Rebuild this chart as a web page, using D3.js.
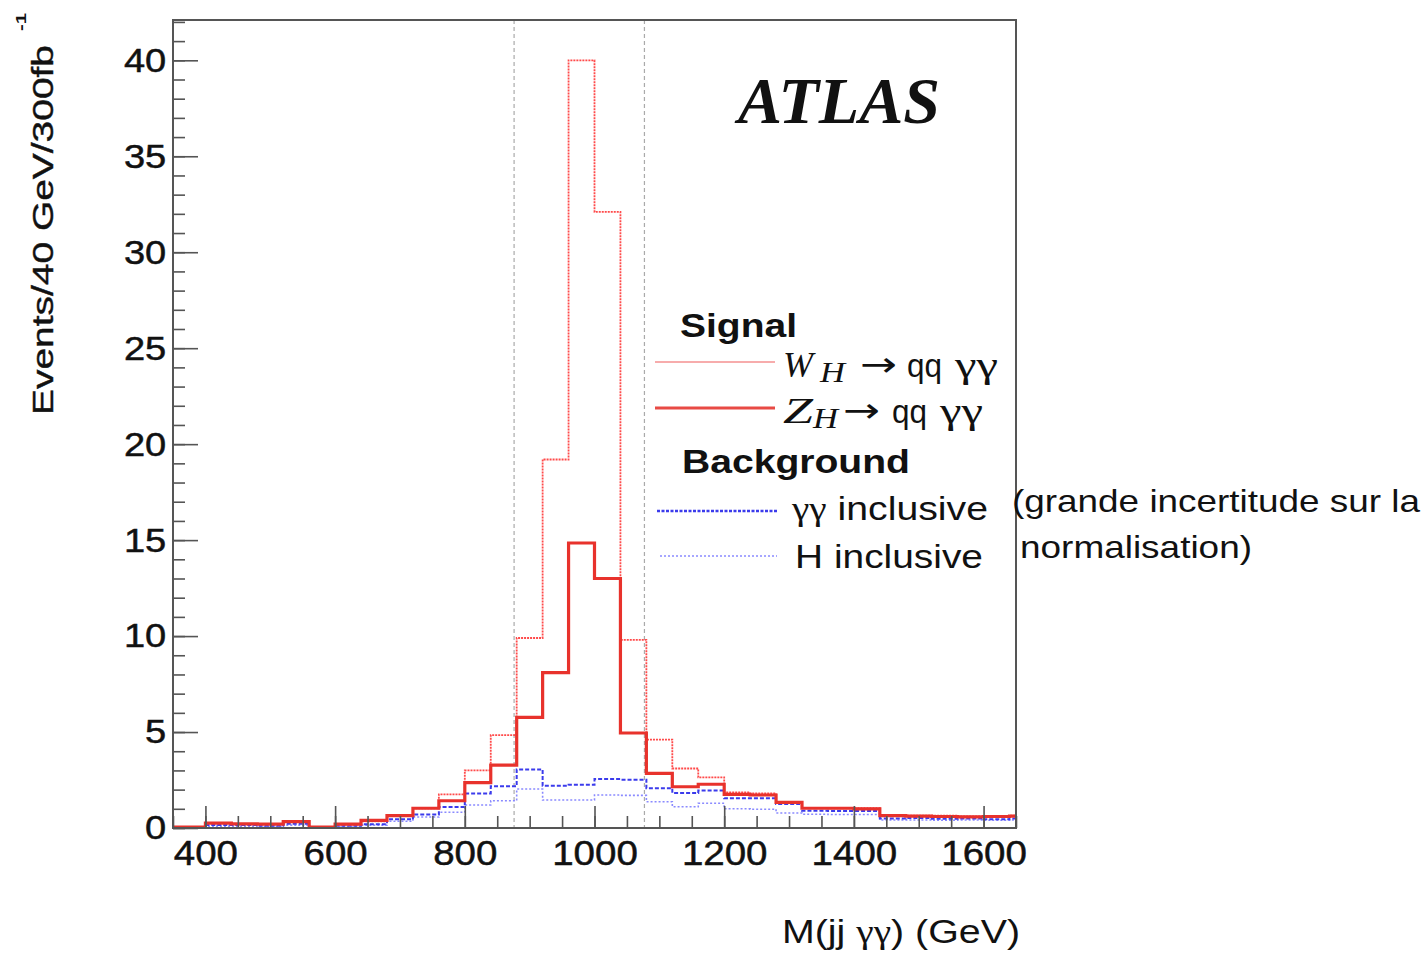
<!DOCTYPE html>
<html>
<head>
<meta charset="utf-8">
<style>
body{margin:0;background:#fff;}
text{font-family:"Liberation Sans",Arial,sans-serif;fill:#111;}
.frame{fill:none;stroke:#555;stroke-width:2;}
.axis line{stroke:#555;stroke-width:1.6;}
.axis path{display:none;}
.gam{font-family:"Liberation Serif","Times New Roman",serif;}
</style>
<title>ATLAS M(jj yy)</title>
</head>
<body>
<svg width="1427" height="958"></svg>
<script src="https://d3js.org/d3.v7.min.js"></script>
<script>
// lower edge of each 40 GeV bin
var binLow = [320, 360, 400, 440, 480, 520, 560, 600, 640, 680, 720, 760, 800, 840, 880, 920, 960,
              1000, 1040, 1080, 1120, 1160, 1200, 1240, 1280, 1320, 1360, 1400, 1440, 1480, 1520, 1560, 1600, 1640];

var wSignal = [0.05, 0.05, 0.25, 0.22, 0.2, 0.35, 0.05, 0.18, 0.35, 0.68, 1.03, 1.75, 3.0, 4.84, 9.9, 19.2, 40.0,
               32.1, 9.8, 4.6, 3.1, 2.64, 1.85, 1.8, 1.35, 1.05, 1.03, 1.03, 0.68, 0.65, 0.65, 0.6, 0.62, 0.65];

var zSignal = [0.05, 0.05, 0.25, 0.22, 0.2, 0.33, 0.05, 0.2, 0.4, 0.65, 1.03, 1.42, 2.36, 3.28, 5.76, 8.1, 14.85,
               13.0, 4.95, 2.85, 2.15, 2.28, 1.75, 1.72, 1.33, 1.03, 1.03, 1.0, 0.65, 0.62, 0.6, 0.58, 0.6, 0.62];

var ggIncl = [0.03, 0.03, 0.15, 0.15, 0.12, 0.22, 0.03, 0.12, 0.2, 0.45, 0.7, 1.1, 1.8, 2.17, 3.05, 2.2, 2.25,
              2.55, 2.52, 2.07, 1.82, 1.95, 1.55, 1.55, 1.25, 0.9, 0.88, 0.88, 0.5, 0.52, 0.48, 0.5, 0.45, 0.5];

var hIncl = [0.02, 0.02, 0.1, 0.1, 0.08, 0.15, 0.02, 0.08, 0.15, 0.35, 0.57, 0.82, 1.2, 1.42, 2.03, 1.46, 1.46,
             1.72, 1.7, 1.37, 1.11, 1.29, 1.0, 0.98, 0.78, 0.72, 0.7, 0.7, 0.42, 0.42, 0.4, 0.42, 0.4, 0.42];

var binWidth = 40;
var windowCuts = [876, 1077];
var xTicks = [400, 600, 800, 1000, 1200, 1400, 1600];
var yTicks = [0, 5, 10, 15, 20, 25, 30, 35, 40];

var svg = d3.select("svg");

var x = d3.scaleLinear().domain([350, 1650]).range([173, 1016]);
var y = d3.scaleLinear().domain([0, 42.1]).range([828, 20]);

svg.append("clipPath").attr("id", "plotclip")
  .append("rect")
    .attr("x", x.range()[0]).attr("y", y.range()[1])
    .attr("width", x.range()[1] - x.range()[0])
    .attr("height", y.range()[0] - y.range()[1]);

// mass window
svg.append("g").selectAll("line")
  .data(windowCuts)
  .enter().append("line")
    .attr("x1", function(d) { return x(d); })
    .attr("x2", function(d) { return x(d); })
    .attr("y1", y.range()[1]).attr("y2", y.range()[0])
    .attr("stroke", "#aaa").attr("stroke-width", 1.2)
    .attr("stroke-dasharray", "4,3");

// histograms
var step = d3.line()
    .x(function(d) { return x(d[0]); })
    .y(function(d) { return y(d[1]); })
    .curve(d3.curveStepAfter);

function histPoints(vals) {
  var pts = binLow.map(function(lo, i) { return [lo, vals[i]]; });
  pts.push([binLow[binLow.length - 1] + binWidth, vals[vals.length - 1]]);
  return pts;
}

var series = [
  {vals: hIncl,   color: "#8a8aff", width: 1.6, dash: "2,2"},
  {vals: ggIncl,  color: "#3b3bec", width: 2,   dash: "4,2"},
  {vals: wSignal, color: "#ff4a4a", width: 1.8, dash: "2,1"},
  {vals: zSignal, color: "#e8322c", width: 3.2, dash: null}
];

svg.append("g").attr("clip-path", "url(#plotclip)")
  .selectAll("path")
  .data(series)
  .enter().append("path")
    .attr("d", function(d) { return step(histPoints(d.vals)); })
    .attr("fill", "none")
    .attr("stroke", function(d) { return d.color; })
    .attr("stroke-width", function(d) { return d.width; })
    .attr("stroke-dasharray", function(d) { return d.dash; });

// frame
svg.append("rect").attr("class", "frame")
  .attr("x", x.range()[0]).attr("y", y.range()[1])
  .attr("width", x.range()[1] - x.range()[0])
  .attr("height", y.range()[0] - y.range()[1]);

// axes, ticks pointing inwards
svg.append("g").attr("class", "axis")
  .attr("transform", "translate(" + x.range()[0] + ",0)")
  .call(d3.axisLeft(y).tickValues(d3.range(0, 43, 1)).tickSize(-12).tickFormat(""));

var yAxis = svg.append("g").attr("class", "axis")
  .attr("transform", "translate(" + x.range()[0] + ",0)")
  .call(d3.axisLeft(y).tickValues(yTicks).tickSize(-25).tickPadding(6).tickFormat(d3.format("d")));
yAxis.selectAll("text")
  .style("font-size", "34px").attr("fill", "#111")
  .attr("stroke", "#111").attr("stroke-width", 0.5)
  .attr("transform", "scale(1.12,1)");

svg.append("g").attr("class", "axis")
  .attr("transform", "translate(0," + y.range()[0] + ")")
  .call(d3.axisBottom(x).tickValues(d3.range(350, 1651, 50)).tickSize(-12).tickFormat(""));

var xAxis = svg.append("g").attr("class", "axis")
  .attr("transform", "translate(0," + y.range()[0] + ")")
  .call(d3.axisBottom(x).tickValues(xTicks).tickSize(-22).tickPadding(12).tickFormat(d3.format("d")));
xAxis.selectAll("text")
  .style("font-size", "35px").attr("fill", "#111")
  .attr("stroke", "#111").attr("stroke-width", 0.5)
  .attr("transform", "scale(1.1,1)");

// text made of pieces, some of them in another font (gamma)
function richText(pieces, x0, y0, size, len, bold, transform) {
  var t = svg.append("text")
    .style("font-size", size + "px")
    .style("font-weight", bold ? "bold" : "normal")
    .attr("textLength", len).attr("lengthAdjust", "spacingAndGlyphs");
  if (transform) t.attr("transform", transform);
  else t.attr("x", x0).attr("y", y0);
  pieces.forEach(function(p) {
    t.append("tspan").attr("class", p[1] || null).text(p[0]);
  });
  return t;
}

// axis titles
richText([["Events/40 GeV/300fb"]], 0, 0, 30, 370, false, "translate(53,415) rotate(-90)")
  .attr("stroke", "#111").attr("stroke-width", 0.4);

richText([["-1"]], 0, 0, 14, 18, true, "translate(26,31) rotate(-90)");

richText([["M(jj "], ["γγ", "gam"], [") (GeV)"]], 782, 943, 33, 238, false);

// ATLAS label
svg.append("text")
  .attr("x", 738).attr("y", 123)
  .style("font-family", "'Liberation Serif','Times New Roman',serif")
  .style("font-size", "65px").style("font-weight", "bold").style("font-style", "italic")
  .attr("textLength", 202).attr("lengthAdjust", "spacingAndGlyphs")
  .text("ATLAS");

// legend
var legendLines = [
  {x1: 655, x2: 775, y: 362, color: "#f49090", width: 1.6, dash: null},
  {x1: 655, x2: 775, y: 408, color: "#e84a44", width: 3.2, dash: null},
  {x1: 657, x2: 777, y: 511, color: "#3b3bec", width: 2.4, dash: "3,1.5"},
  {x1: 660, x2: 777, y: 556, color: "#8a8aff", width: 1.6, dash: "2,2"}
];
svg.append("g").selectAll("line")
  .data(legendLines)
  .enter().append("line")
    .attr("x1", function(d) { return d.x1; })
    .attr("x2", function(d) { return d.x2; })
    .attr("y1", function(d) { return d.y; })
    .attr("y2", function(d) { return d.y; })
    .attr("stroke", function(d) { return d.color; })
    .attr("stroke-width", function(d) { return d.width; })
    .attr("stroke-dasharray", function(d) { return d.dash; });

richText([["Signal"]], 680, 337, 33, 117, true);
richText([["Background"]], 682, 473, 33, 228, true);
richText([["γγ", "gam"], [" inclusive"]], 792, 520, 33, 196, false);
richText([["H inclusive"]], 795, 568, 33, 188, false);

function piece(str, x0, y0, size, len, family, italic) {
  svg.append("text")
    .attr("x", x0).attr("y", y0)
    .style("font-family", family)
    .style("font-style", italic ? "italic" : "normal")
    .style("font-size", size + "px")
    .attr("textLength", len).attr("lengthAdjust", "spacingAndGlyphs")
    .text(str);
}

function bosonEntry(letter, base, pos) {
  piece(letter, pos[0], base, 36, 30, "'Liberation Serif',serif", true);
  piece("H", pos[1], base + 5, 29, 25, "'Liberation Serif',serif", true);
  piece("→", pos[2], base - 1, 34, 37, "'DejaVu Sans',sans-serif", false);
  piece("qq", pos[3], base, 33, 35, "'Liberation Sans',sans-serif", false);
  piece("γγ", pos[4], base, 36, 43, "'Liberation Serif',serif", false);
}
bosonEntry("W", 377, [783, 820, 860, 907, 955]);
bosonEntry("Z", 423, [783, 813, 843, 892, 940]);

// note outside the frame
richText([["(grande incertitude sur la"]], 1012, 512, 32, 408, false);
richText([["normalisation)"]], 1020, 558, 32, 232, false);
</script>
</body>
</html>
